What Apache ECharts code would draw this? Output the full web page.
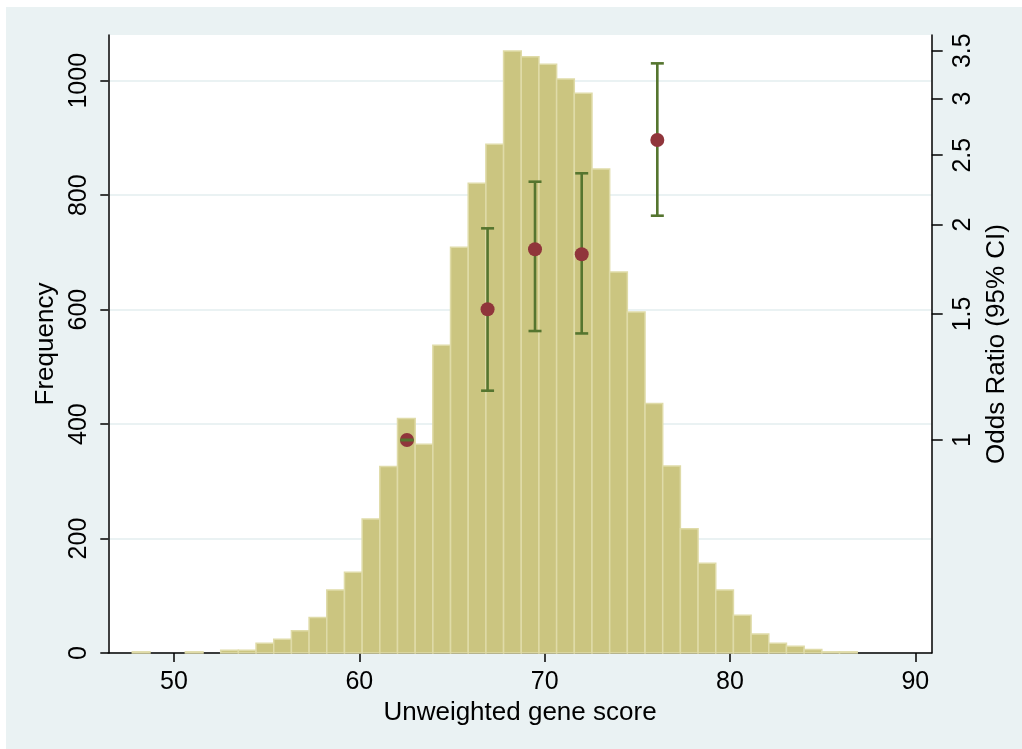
<!DOCTYPE html>
<html>
<head>
<meta charset="utf-8">
<script src="https://cdn.jsdelivr.net/npm/echarts@6/dist/echarts.min.js"></script>
<style>
  html, body { margin: 0; padding: 0; background: #ffffff; }
  #chart { position: absolute; left: 6px; top: 7px; width: 1016px; height: 742px; }
</style>
</head>
<body>
<div id="chart"></div>
<script>
// Histogram of the unweighted gene score (41 equal-width bins)
const binStart = 47.75;
const binWidth = 0.954;
const binCounts = [2, 0, 0, 2, 0, 5, 5, 17, 24, 39, 62, 110, 141, 234, 326, 410,
  365, 538, 709, 821, 889, 1052, 1042, 1029, 1003, 978, 846, 666, 596, 436,
  327, 217, 157, 110, 66, 33, 17, 12, 6, 2, 2];

// Odds ratios by score group (mean score of group), with 95% CI
const groupScore = [62.57, 66.92, 69.48, 72.0, 76.08];
const oddsRatio = [1.0, 1.523, 1.847, 1.818, 2.626];
const ciLower = [1.0, 1.172, 1.42, 1.409, 2.058];
const ciUpper = [1.0, 1.976, 2.296, 2.359, 3.36];

// Axis ticks
const xTicks = [50, 60, 70, 80, 90];
const freqTicks = [0, 200, 400, 600, 800, 1000];
const orTicks = [1, 1.5, 2, 2.5, 3, 3.5];

const FONT = 'Liberation Sans, Arial, Helvetica, sans-serif';
const BG = '#eaf2f3';
const BAR_FILL = '#cbc580';
const BAR_EDGE = '#dfdba8';
const MAROON = '#90353b';
const GREEN = '#55752f';
const CI_WIDTH = 2.6;

// Odds-ratio axis is logarithmic: plot on natural-log scale
const ln = Math.log;
const histData = binCounts.map((c, i) => [binStart + i * binWidth, binStart + (i + 1) * binWidth, c]);
const ciData = groupScore.map((x, i) => [x, ln(ciLower[i]), ln(ciUpper[i])]);
const orData = groupScore.map((x, i) => [x, ln(oddsRatio[i])]);

const chart = echarts.init(document.getElementById('chart'), null, { renderer: 'canvas' });

const axisText = { fontFamily: FONT, fontSize: 25, color: '#000' };

chart.setOption({
  backgroundColor: BG,
  animation: false,
  grid: {
    left: 102.3, right: 90.3, top: 28, bottom: 96,
    show: true, backgroundColor: '#ffffff', borderWidth: 0
  },
  xAxis: {
    type: 'value',
    min: 46.455, max: 90.885,
    name: 'Unweighted gene score',
    nameLocation: 'middle',
    nameGap: 46,
    nameTextStyle: { fontFamily: FONT, fontSize: 26, color: '#000' },
    axisLine: { show: true, onZero: false, lineStyle: { color: '#000', width: 1.5 } },
    axisTick: { show: true, length: 9, customValues: xTicks, lineStyle: { color: '#000', width: 1.5 } },
    axisLabel: Object.assign({ customValues: xTicks, margin: 17 }, axisText),
    splitLine: { show: false }
  },
  yAxis: [
    {
      type: 'value',
      position: 'left',
      min: 0, max: 1080, interval: 200,
      name: 'Frequency',
      nameLocation: 'middle',
      nameGap: 45,
      nameRotate: 90,
      nameTextStyle: { fontFamily: FONT, fontSize: 26, color: '#000' },
      axisLine: { show: true, lineStyle: { color: '#000', width: 1.5 } },
      axisTick: { show: true, length: 8, customValues: freqTicks, lineStyle: { color: '#000', width: 1.5 } },
      axisLabel: Object.assign({
        customValues: freqTicks, rotate: 90, margin: 17,
        formatter: v => String(v)
      }, axisText),
      splitLine: { show: true, lineStyle: { color: BG, width: 2 } }
    },
    {
      type: 'value',
      position: 'right',
      min: ln(0.5039), max: ln(3.681),
      name: 'Odds Ratio (95% CI)',
      nameLocation: 'middle',
      nameGap: 44,
      nameRotate: 90,
      nameTextStyle: { fontFamily: FONT, fontSize: 26, color: '#000' },
      axisLine: { show: true, lineStyle: { color: '#000', width: 1.5 } },
      axisTick: { show: true, length: 11, customValues: orTicks.map(ln), lineStyle: { color: '#000', width: 1.5 } },
      axisLabel: Object.assign({
        customValues: orTicks.map(ln), rotate: 90, margin: 19,
        formatter: v => String(+Math.exp(v).toFixed(1))
      }, axisText),
      splitLine: { show: false }
    }
  ],
  series: [
    {
      name: 'Frequency',
      type: 'custom',
      xAxisIndex: 0, yAxisIndex: 0,
      z: 2,
      data: histData,
      encode: { x: [0, 1], y: 2 },
      renderItem: (params, api) => {
        if (!api.value(2)) return null; // empty bin
        const p0 = api.coord([api.value(0), api.value(2)]);
        const p1 = api.coord([api.value(1), 0]);
        return {
          type: 'rect',
          shape: { x: p0[0], y: p0[1], width: p1[0] - p0[0], height: p1[1] - p0[1] },
          style: { fill: BAR_FILL, stroke: BAR_EDGE, lineWidth: 1.5 }
        };
      }
    },
    {
      name: 'CI',
      type: 'custom',
      xAxisIndex: 0, yAxisIndex: 1,
      z: 3,
      data: ciData,
      encode: { x: 0, y: [1, 2] },
      renderItem: (params, api) => {
        const lo = api.coord([api.value(0), api.value(1)]);
        const hi = api.coord([api.value(0), api.value(2)]);
        return {
          type: 'line',
          shape: { x1: lo[0], y1: lo[1], x2: hi[0], y2: hi[1] },
          style: { stroke: GREEN, lineWidth: CI_WIDTH }
        };
      }
    },
    {
      name: 'Odds ratio',
      type: 'scatter',
      xAxisIndex: 0, yAxisIndex: 1,
      z: 4,
      symbol: 'circle',
      symbolSize: 14,
      itemStyle: { color: MAROON, opacity: 1 },
      data: orData
    },
    {
      name: 'CI caps',
      type: 'custom',
      xAxisIndex: 0, yAxisIndex: 1,
      z: 5,
      data: ciData,
      encode: { x: 0, y: [1, 2] },
      renderItem: (params, api) => {
        const lo = api.coord([api.value(0), api.value(1)]);
        const hi = api.coord([api.value(0), api.value(2)]);
        const half = 6.5;
        return {
          type: 'group',
          children: [
            { type: 'line', shape: { x1: lo[0] - half, y1: lo[1], x2: lo[0] + half, y2: lo[1] },
              style: { stroke: GREEN, lineWidth: CI_WIDTH } },
            { type: 'line', shape: { x1: hi[0] - half, y1: hi[1], x2: hi[0] + half, y2: hi[1] },
              style: { stroke: GREEN, lineWidth: CI_WIDTH } }
          ]
        };
      }
    }
  ]
});
</script>
</body>
</html>
